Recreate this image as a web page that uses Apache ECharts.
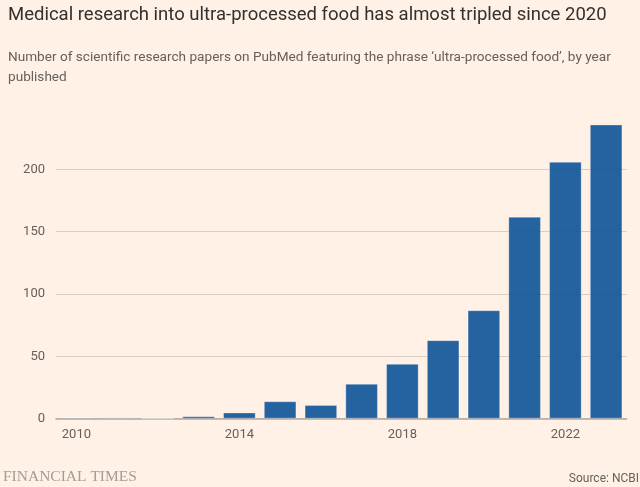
<!DOCTYPE html>
<html>
<head>
<meta charset="utf-8">
<script src="https://cdn.jsdelivr.net/npm/echarts@6/dist/echarts.min.js"></script>
<style>
  html, body { margin: 0; padding: 0; background: #fff1e5; }
  #chart { width: 640px; height: 487px; }
</style>
</head>
<body>
<div id="chart"></div>
<script>
// years and number of papers
var years = ['2010', '2011', '2012', '2013', '2014', '2015', '2016',
  '2017', '2018', '2019', '2020', '2021', '2022', '2023'];
var papers = [1, 1, 0, 2, 5, 14, 11, 28, 44, 63, 87, 162, 206, 236];
var yTicks = [0, 50, 100, 150, 200];

var titleText = 'Medical research into ultra-processed food has almost tripled since 2020';
var subText = 'Number of scientific research papers on PubMed featuring the phrase \u2018ultra-processed food\u2019, by year\npublished';

var myChart = echarts.init(document.getElementById('chart'));

var option = {
  backgroundColor: '#fff1e5',
  animation: false,
  title: [{
    text: titleText,
    left: 3,
    top: 1,
    textStyle: {
      fontFamily: 'Roboto',
      fontWeight: 'normal',
      fontSize: 18.5,
      color: '#33302e'
    }
  }, {
    text: subText,
    left: 3,
    top: 43,
    textStyle: {
      fontFamily: 'Roboto',
      fontWeight: 'normal',
      fontSize: 13.6,
      lineHeight: 20,
      color: '#66605c'
    }
  }, {
    text: 'FINANCIAL TIMES',
    left: -2,
    bottom: -3,
    textStyle: {
      fontFamily: 'Liberation Serif',
      fontWeight: 'normal',
      fontSize: 15.5,
      color: '#a39d98'
    }
  }, {
    text: 'Source: NCBI',
    right: -4,
    bottom: -3,
    textStyle: {
      fontFamily: 'Roboto',
      fontWeight: 'normal',
      fontSize: 12,
      color: '#66605c'
    }
  }],
  grid: {
    left: 56,
    right: 13.5,
    top: 107,
    bottom: 68.3
  },
  xAxis: {
    type: 'category',
    data: years,
    axisLine: { lineStyle: { color: '#b3a89f', width: 1.5 } },
    axisTick: {
      alignWithLabel: true,
      interval: 3,
      length: 7,
      lineStyle: { color: '#b3a89f' }
    },
    axisLabel: {
      interval: 3,
      margin: 10,
      fontFamily: 'Roboto',
      fontSize: 13,
      color: '#66605c'
    }
  },
  yAxis: {
    type: 'value',
    min: 0,
    max: 250,
    interval: 50,
    axisLine: { show: false },
    axisTick: { show: false },
    axisLabel: {
      showMaxLabel: false,
      margin: 11,
      fontFamily: 'Roboto',
      fontSize: 13,
      color: '#66605c',
      formatter: function (v) {
        return yTicks.indexOf(v) >= 0 ? String(v) : '';
      }
    },
    splitLine: {
      showMaxLine: false,
      lineStyle: { color: '#d9cdc2' }
    }
  },
  series: [{
    type: 'bar',
    data: papers,
    barCategoryGap: '20%',
    itemStyle: {
      color: 'rgba(15, 84, 153, 0.91)',
      borderColor: 'rgba(255, 255, 255, 0.3)',
      borderWidth: 1
    }
  }]
};

myChart.setOption(option);
</script>
</body>
</html>
